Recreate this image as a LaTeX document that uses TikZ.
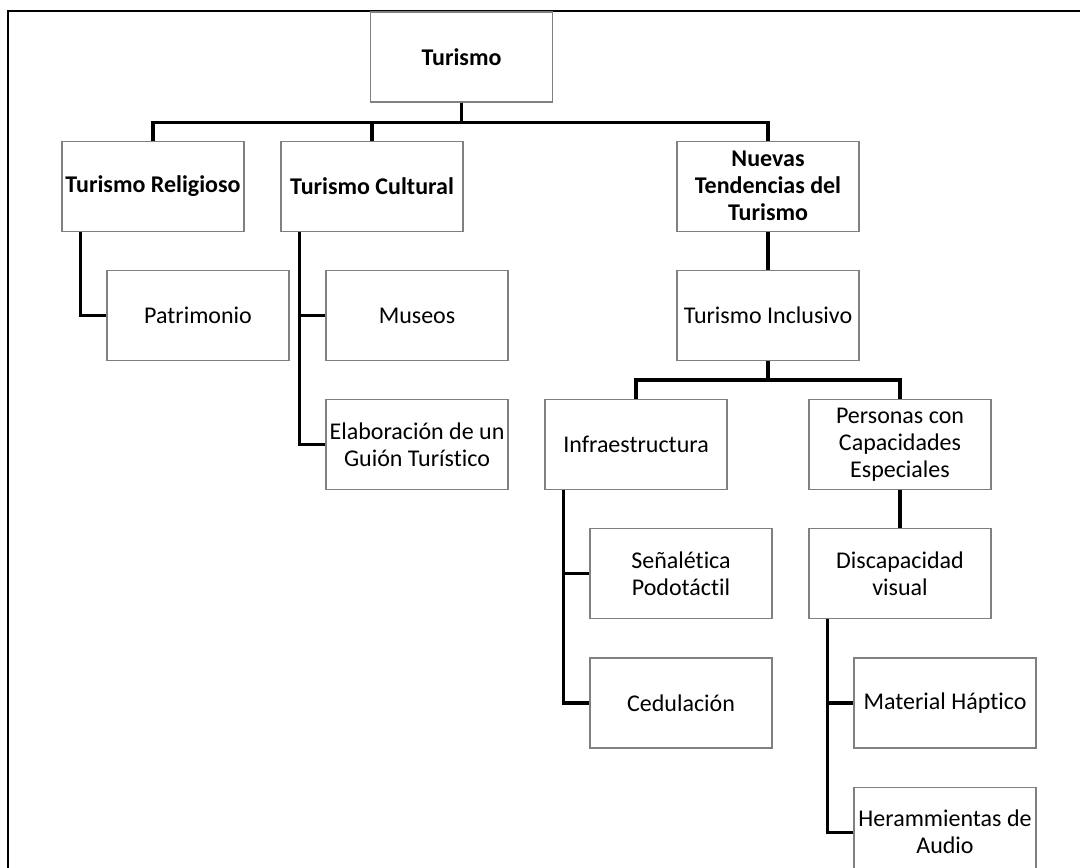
\documentclass[tikz,border=0pt]{standalone}
\usepackage{fontspec}
\setmainfont{Carlito}[Ligatures=NoCommon]
\usetikzlibrary{positioning}

\begin{document}
\begin{tikzpicture}[
    x=0.5pt, y=-0.5pt,
    node distance=19pt and 0pt,
    box/.style={
      rectangle, draw=gray, line width=0.6pt,
      minimum width=91pt, minimum height=45pt, inner sep=1pt,
      font=\fontsize{12}{13.5}\selectfont, align=center
    },
    head/.style={box, font=\fontsize{12}{13.5}\selectfont\bfseries},
    link/.style={line width=1.6pt, black},
    frameline/.style={line width=1.2pt, black},
  ]
    \clip (0,0) rectangle (1080,867);

    % Frame
    \draw[frameline] (1080,11) -| (8,880);

    % Root
    \node[head] (turismo) at (461.5,57) {Turismo};

    % First level
    \node[head, below=of turismo, xshift=-154.25pt] (relig) {Turismo Religioso};
    \node[head, below=of turismo, xshift=-44.75pt] (cultural) {Turismo Cultural};
    \node[head, below=of turismo, xshift=153.25pt] (nuevas) {Nuevas\\Tendencias del\\Turismo};

    % Religioso / Cultural branches
    \node[box, below=of relig, xshift=22.5pt] (patrimonio) {Patrimonio};
    \node[box, below=of cultural, xshift=22.5pt] (museos) {Museos};
    \node[box, below=of museos] (guion) {Elaboración de un\\Guión Turístico};

    % Nuevas tendencias
    \node[box, below=of nuevas] (inclusivo) {Turismo Inclusivo};
    \node[box, below=of inclusivo, xshift=-66pt] (infra) {Infraestructura};
    \node[box, below=of inclusivo, xshift=66pt] (personas) {Personas con\\Capacidades\\Especiales};

    \node[box, below=of infra, xshift=22.5pt] (senal) {Señalética\\Podotáctil};
    \node[box, below=of senal] (cedula) {Cedulación};

    \node[box, below=of personas] (discap) {Discapacidad\\visual};
    \node[box, below=of discap, xshift=22.5pt] (haptico) {Material Háptico};
    \node[box, below=of haptico] (audio) {Herammientas de\\Audio};

    % Links
    \draw[link] (turismo.south) |- ([yshift=9pt]relig.north) -- (relig.north);
    \draw[link] (turismo.south) |- ([yshift=9pt]cultural.north) -- (cultural.north);
    \draw[link] (turismo.south) |- ([yshift=9pt]nuevas.north) -- (nuevas.north);

    \draw[link] ([xshift=9.5pt]relig.south west) |- (patrimonio.west);
    \draw[link] ([xshift=9.5pt]cultural.south west) |- (museos.west);
    \draw[link] ([xshift=9.5pt]cultural.south west) |- (guion.west);

    \draw[link] (nuevas) -- (inclusivo);
    \draw[link] (inclusivo.south) |- ([yshift=9.5pt]infra.north) -- (infra.north);
    \draw[link] (inclusivo.south) |- ([yshift=9.5pt]personas.north) -- (personas.north);

    \draw[link] ([xshift=9.5pt]infra.south west) |- (senal.west);
    \draw[link] ([xshift=9.5pt]infra.south west) |- (cedula.west);

    \draw[link] (personas) -- (discap);
    \draw[link] ([xshift=9.5pt]discap.south west) |- (haptico.west);
    \draw[link] ([xshift=9.5pt]discap.south west) |- (audio.west);
  \end{tikzpicture}
\end{document}
